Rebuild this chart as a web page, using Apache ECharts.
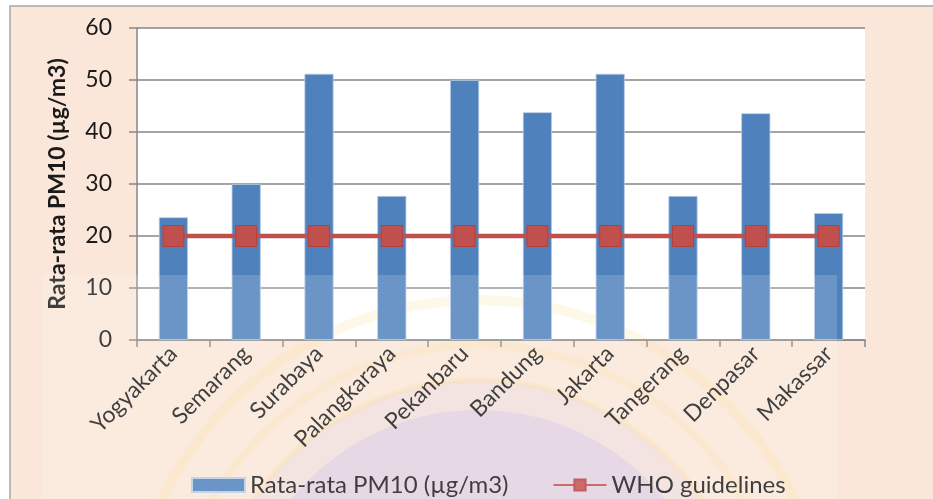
<!DOCTYPE html>
<html>
<head>
<meta charset="utf-8">
<script src="https://cdn.jsdelivr.net/npm/echarts@6/dist/echarts.min.js"></script>
<style>
  html, body { margin: 0; padding: 0; background: #fff; }
  #chart { width: 933px; height: 499px; }
</style>
</head>
<body>
<div id="chart"></div>
<script>
// data
var cities = ['Yogyakarta', 'Semarang', 'Surabaya', 'Palangkaraya', 'Pekanbaru',
              'Bandung', 'Jakarta', 'Tangerang', 'Denpasar', 'Makassar'];
var pm10 = [23.6, 30.0, 51.2, 27.7, 50.0, 43.8, 51.2, 27.7, 43.6, 24.4];
var who = [20, 20, 20, 20, 20, 20, 20, 20, 20, 20];
var yTicks = [0, 10, 20, 30, 40, 50, 60];

var font = 'Lato, "Open Sans", sans-serif';
var myChart = echarts.init(document.getElementById('chart'));

var option = {
  backgroundColor: '#ffffff',
  animation: false,
  textStyle: { fontFamily: font },
  graphic: [
    {
      // chart area (peach) with thin border
      type: 'rect', z: -10,
      shape: { x: 10, y: 6, width: 940, height: 510 },
      style: { fill: '#FBE7D9', stroke: '#A6A6A6', lineWidth: 1.5 }
    },
    {
      // plot area
      type: 'rect', z: -9,
      shape: { x: 137, y: 28, width: 728, height: 312 },
      style: { fill: '#ffffff' }
    },
    {
      // watermark: faint rings and a purple disc at the bottom
      type: 'group', z: -8, silent: true,
      children: [
        { type: 'circle', shape: { cx: 478, cy: 650, r: 350 },
          style: { fill: 'none', stroke: 'rgba(250,220,130,0.22)', lineWidth: 10 } },
        { type: 'circle', shape: { cx: 478, cy: 650, r: 305 },
          style: { fill: 'none', stroke: 'rgba(250,220,130,0.2)', lineWidth: 8 } },
        { type: 'circle', shape: { cx: 478, cy: 650, r: 270 },
          style: { fill: 'rgba(225,210,225,0.35)', stroke: 'rgba(250,220,130,0.25)', lineWidth: 6 } },
        { type: 'circle', shape: { cx: 478, cy: 650, r: 240 },
          style: { fill: 'rgba(190,180,235,0.3)' } }
      ]
    },
    {
      // faint watermark wash over the lower part
      type: 'rect', z: 100, silent: true,
      shape: { x: 42, y: 275, width: 795, height: 230 },
      style: { fill: 'rgba(255,255,255,0.16)' }
    }
  ],
  grid: { left: 137, right: 68, top: 28, bottom: 159, containLabel: false },
  legend: {
    left: 186, top: 468,
    itemGap: 44,
    itemWidth: 53, itemHeight: 14,
    textStyle: { fontSize: 24, color: '#1a1a1a', fontFamily: font },
    data: [
      { name: 'Rata-rata PM10 (µg/m3)', icon: 'rect' },
      { name: 'WHO guidelines' }
    ]
  },
  xAxis: {
    type: 'category',
    data: cities,
    boundaryGap: true,
    axisLine: { lineStyle: { color: '#868686', width: 1.5 } },
    axisTick: { show: true, alignWithLabel: false, length: 7, lineStyle: { color: '#868686', width: 1.5 } },
    axisLabel: { rotate: 45, fontSize: 23, color: '#1a1a1a', margin: 10, interval: 0 }
  },
  yAxis: {
    type: 'value',
    min: 0, max: 60, interval: 10,
    name: 'Rata-rata PM10 (µg/m3)',
    nameLocation: 'middle',
    nameGap: 68,
    nameTextStyle: { fontSize: 23, fontWeight: 'bold', color: '#1a1a1a' },
    axisLine: { show: true, lineStyle: { color: '#868686', width: 1.5 } },
    axisTick: { show: true, length: 8, lineStyle: { color: '#868686', width: 1.5 } },
    axisLabel: {
      fontSize: 23, color: '#1a1a1a', margin: 25,
      formatter: function (v) { return yTicks.indexOf(v) >= 0 ? String(v) : ''; }
    },
    splitLine: { lineStyle: { color: '#868686', width: 1.5 } }
  },
  series: [
    {
      name: 'Rata-rata PM10 (µg/m3)',
      type: 'bar',
      data: pm10,
      barWidth: '40%',
      itemStyle: { color: '#4F81BD', borderColor: '#B9CDE5', borderWidth: 0.8 }
    },
    {
      name: 'WHO guidelines',
      type: 'line',
      data: who,
      symbol: 'rect',
      symbolSize: 21,
      lineStyle: { color: '#C0504D', width: 4.5 },
      itemStyle: { color: '#C0504D', borderColor: '#B5403D', borderWidth: 1 }
    }
  ]
};

myChart.setOption(option);
</script>
</body>
</html>
